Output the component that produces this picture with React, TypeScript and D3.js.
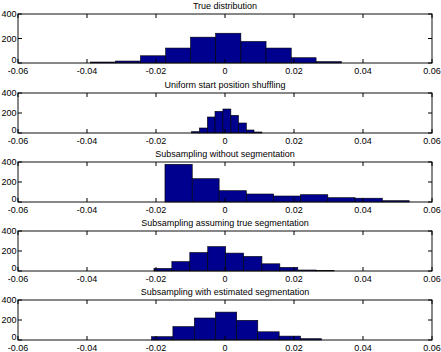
import React from "react";
import * as d3 from "d3";

// panel titles
const titles = [
  "True distribution",
  "Uniform start position shuffling",
  "Subsampling without segmentation",
  "Subsampling assuming true segmentation",
  "Subsampling with estimated segmentation",
];

// bin edges and counts for each histogram
const trueEdges = [-0.039, -0.0317, -0.0245, -0.0172, -0.01, -0.0027, 0.0046, 0.0119, 0.0192, 0.0264, 0.0337];
const trueCounts = [8, 16, 59, 122, 211, 243, 176, 122, 43, 11];

const shuffleEdges = [-0.0097, -0.0074, -0.0051, -0.0029, -0.0006, 0.0017, 0.0039, 0.0062, 0.0084, 0.0107];
const shuffleCounts = [13, 50, 160, 217, 240, 177, 100, 30, 10];

const noSegEdges = [-0.0174, -0.0095, -0.0017, 0.0062, 0.0141, 0.0219, 0.0298, 0.0377, 0.0456, 0.0534];
const noSegCounts = [377, 233, 113, 80, 60, 73, 43, 38, 13];

const trueSegEdges = [-0.0206, -0.0154, -0.0102, -0.005, 0.0002, 0.0054, 0.0107, 0.0159, 0.0211, 0.0264, 0.0316];
const trueSegCounts = [26, 94, 185, 244, 179, 146, 72, 36, 10, 6];

const estSegEdges = [-0.0213, -0.0151, -0.0089, -0.0028, 0.0034, 0.0095, 0.0157, 0.0219, 0.028];
const estSegCounts = [33, 134, 220, 279, 197, 82, 39, 13];

const xTicks = [-0.06, -0.04, -0.02, 0, 0.02, 0.04, 0.06];
const xTickLabels = ["-0.06", "-0.04", "-0.02", "0", "0.02", "0.04", "0.06"];
const yTicks = [0, 200, 400];

const panels = [
  { title: titles[0], edges: trueEdges, counts: trueCounts, top: 14, bottom: 63 },
  { title: titles[1], edges: shuffleEdges, counts: shuffleCounts, top: 93, bottom: 133 },
  { title: titles[2], edges: noSegEdges, counts: noSegCounts, top: 162, bottom: 202 },
  { title: titles[3], edges: trueSegEdges, counts: trueSegCounts, top: 231, bottom: 271 },
  { title: titles[4], edges: estSegEdges, counts: estSegCounts, top: 300, bottom: 340 },
];

const width = 441;
const height = 352;
const left = 18;
const right = 432;
const font = "Liberation Sans, Arial, sans-serif";
const fs = 9;
const tick = 4;

const Panel = ({ p }) => {
  const x = d3.scaleLinear().domain([-0.06, 0.06]).range([left, right]);
  const y = d3.scaleLinear().domain([0, 400]).range([p.bottom, p.top]);
  return (
    <g>
      <text x={(left + right) / 2} y={p.top - 5.5} textAnchor="middle" fontSize={fs} fontFamily={font}>
        {p.title}
      </text>
      {p.counts.map((c, i) => (
        <rect
          key={i}
          x={x(p.edges[i])}
          y={y(c)}
          width={x(p.edges[i + 1]) - x(p.edges[i])}
          height={y(0) - y(c)}
          fill="#00008f"
          stroke="#000"
          strokeWidth={0.6}
        />
      ))}
      <rect x={left} y={p.top} width={right - left} height={p.bottom - p.top} fill="none" stroke="#111" strokeWidth={1} />
      {xTicks.map((t, i) => (
        <g key={"x" + i}>
          <line x1={x(t)} x2={x(t)} y1={p.bottom} y2={p.bottom - tick} stroke="#000" />
          <line x1={x(t)} x2={x(t)} y1={p.top} y2={p.top + tick} stroke="#000" />
          <text x={x(t)} y={p.bottom + 10.5} textAnchor="middle" fontSize={fs} fontFamily={font}>
            {xTickLabels[i]}
          </text>
        </g>
      ))}
      {yTicks.map((t, i) => (
        <g key={"y" + i}>
          <line x1={left} x2={left + tick} y1={y(t)} y2={y(t)} stroke="#000" />
          <line x1={right} x2={right - tick} y1={y(t)} y2={y(t)} stroke="#000" />
          <text x={left - 1.5} y={y(t) + (t === 0 ? 0 : 3.3)} textAnchor="end" fontSize={fs} fontFamily={font}>
            {t}
          </text>
        </g>
      ))}
    </g>
  );
};

export default function App() {
  return (
    <svg
      width={width}
      height={height}
      style={{ position: "absolute", left: 0, top: 0, background: "#fff" }}
    >
      {panels.map((p, i) => (
        <Panel key={i} p={p} />
      ))}
    </svg>
  );
}
